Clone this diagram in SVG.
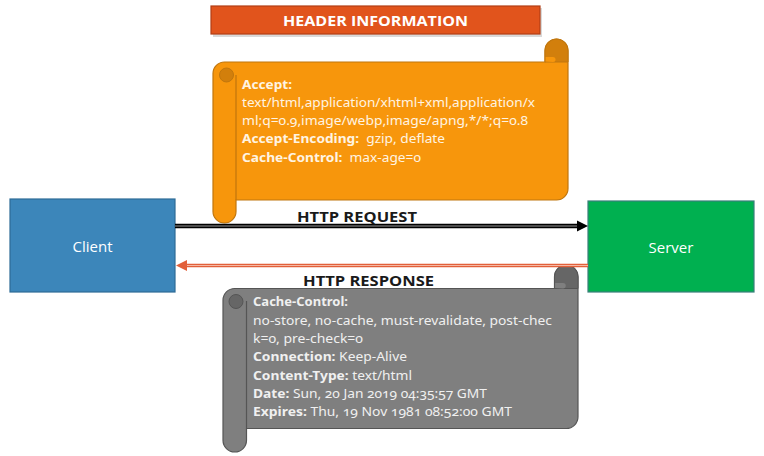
<svg xmlns="http://www.w3.org/2000/svg" width="764" height="456" viewBox="0 0 764 456">
<defs>
<style>
.t{font-family:"Noto Sans","Open Sans","Liberation Sans",sans-serif;font-size:13px;font-variant-numeric:oldstyle-nums;}
.b{font-weight:bold;}
.ot{fill:#FFF4E2;}
.gt{fill:#F0F0F0;}
.lbl{font-family:"Open Sans","Liberation Sans",sans-serif;font-size:15px;font-weight:bold;fill:#1A1A1A;}
.box{font-family:"Open Sans","Liberation Sans",sans-serif;font-size:15px;fill:#FFFFFF;}
.oscroll{fill:#F7960C;stroke:#C0760E;stroke-width:1.2;}
.odark{fill:#D27F0C;stroke:#C0760E;stroke-width:1;}
.gscroll{fill:#7F7F7F;stroke:#555555;stroke-width:1.2;}
.gdark{fill:#666666;stroke:#555555;stroke-width:1;}
</style>
</defs>
<rect width="764" height="456" fill="#FFFFFF"/>

<g id="header">
<rect x="213" y="8" width="329" height="29" fill="#000000" opacity="0.15"/>
<rect x="211" y="6" width="329" height="28" fill="#E1541C" stroke="#B23E14" stroke-width="1.2"/>
<text x="283" y="26" class="box b" textLength="185" lengthAdjust="spacingAndGlyphs">HEADER INFORMATION</text>
</g>

<g id="request-scroll">
<path class="oscroll" d="M213,73.5 A11.5,11.5 0 0 1 224.5,62 L545,62 L545,50.5 A11.5,11.5 0 0 1 568,50.5 L568,188.5 A11.5,11.5 0 0 1 556.5,200 L236,200 L236,211.5 A11.5,11.5 0 0 1 213,211.5 Z"/>
<path class="odark" d="M545,62 L545,50.5 A11.5,11.5 0 0 1 568,50.5 L568,62 Z"/>
<path d="M545.6,61.4 L545.6,57 L553,57 A2.5,2.5 0 0 1 553,62 Z" fill="#F7960C"/>
<circle class="odark" cx="226.5" cy="75" r="7"/>
<line x1="236" y1="75" x2="236" y2="200" stroke="#C0760E" stroke-width="1.2"/>
<text class="t b ot" x="242" y="89" textLength="50" lengthAdjust="spacingAndGlyphs">Accept:</text>
<text class="t ot" x="242" y="107" textLength="293" lengthAdjust="spacingAndGlyphs">text/html,application/xhtml+xml,application/x</text>
<text class="t ot" x="242" y="125" textLength="286" lengthAdjust="spacingAndGlyphs">ml;q=0.9,image/webp,image/apng,*/*;q=0.8</text>
<text class="t ot" x="242" y="143" textLength="203" lengthAdjust="spacingAndGlyphs"><tspan class="b">Accept-Encoding:</tspan>&#160; gzip, deflate</text>
<text class="t ot" x="242" y="162" textLength="179" lengthAdjust="spacingAndGlyphs"><tspan class="b">Cache-Control:</tspan>&#160; max-age=0</text>
</g>

<g id="response-scroll">
<path class="gscroll" d="M223,300.25 A11.75,11.75 0 0 1 234.75,288.5 L554.5,288.5 L554.5,276.75 A11.75,11.75 0 0 1 578,276.75 L578,416.75 A11.75,11.75 0 0 1 566.25,428.5 L246.5,428.5 L246.5,440.25 A11.75,11.75 0 0 1 223,440.25 Z"/>
<path class="gdark" d="M554.5,288.5 L554.5,276.75 A11.75,11.75 0 0 1 578,276.75 L578,288.5 Z"/>
<path d="M555.1,287.9 L555.1,283 L563,283 A2.75,2.75 0 0 1 563,288.5 Z" fill="#7F7F7F"/>
<circle class="gdark" cx="236" cy="301.5" r="7"/>
<line x1="246.5" y1="301" x2="246.5" y2="428.5" stroke="#555555" stroke-width="1.2"/>
<text class="t b gt" x="253" y="306" textLength="95" lengthAdjust="spacingAndGlyphs">Cache-Control:</text>
<text class="t gt" x="253" y="325" textLength="299" lengthAdjust="spacingAndGlyphs">no-store, no-cache, must-revalidate, post-chec</text>
<text class="t gt" x="253" y="343" textLength="110" lengthAdjust="spacingAndGlyphs">k=0, pre-check=0</text>
<text class="t gt" x="253" y="361" textLength="154" lengthAdjust="spacingAndGlyphs"><tspan class="b">Connection:</tspan> Keep-Alive</text>
<text class="t gt" x="253" y="380" textLength="159" lengthAdjust="spacingAndGlyphs"><tspan class="b">Content-Type:</tspan> text/html</text>
<text class="t gt" x="253" y="398" textLength="234" lengthAdjust="spacingAndGlyphs"><tspan class="b">Date:</tspan> Sun, 20 Jan 2019 04:35:57 GMT</text>
<text class="t gt" x="253" y="416" textLength="259" lengthAdjust="spacingAndGlyphs"><tspan class="b">Expires:</tspan> Thu, 19 Nov 1981 08:52:00 GMT</text>
</g>

<g id="client">
<rect x="10" y="199" width="165" height="93" fill="#3C86BA" stroke="#2D6C97" stroke-width="1.2"/>
<text class="box" x="92.5" y="252" text-anchor="middle" font-size="16">Client</text>
</g>

<g id="server">
<rect x="588" y="201" width="166" height="91" fill="#00B050" stroke="#3A7F7A" stroke-width="1.2"/>
<text class="box" x="671" y="253" text-anchor="middle" font-size="16">Server</text>
</g>

<g id="connectors">
<line x1="175" y1="226" x2="578" y2="226" stroke="#000000" stroke-width="4.5"/>
<line x1="175" y1="226" x2="578" y2="226" stroke="#9A9A9A" stroke-width="1.2"/>
<path d="M577,220.5 L588,226 L577,231.5 Z" fill="#000000"/>
<line x1="588" y1="265.5" x2="186" y2="265.5" stroke="#E2603A" stroke-width="3.5"/>
<line x1="588" y1="265.5" x2="186" y2="265.5" stroke="#F5B8A4" stroke-width="1.2"/>
<path d="M187,260 L176,265.5 L187,271 Z" fill="#E2603A"/>
<text class="lbl" x="297" y="222" textLength="120" lengthAdjust="spacingAndGlyphs">HTTP REQUEST</text>
<text class="lbl" x="303" y="286" textLength="131" lengthAdjust="spacingAndGlyphs">HTTP RESPONSE</text>
</g>
</svg>
